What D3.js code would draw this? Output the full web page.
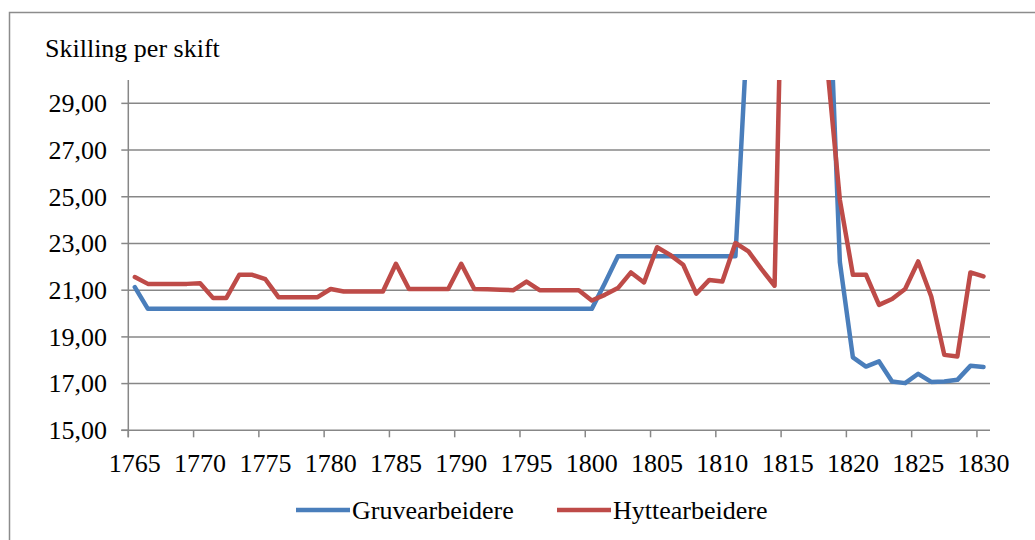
<!DOCTYPE html>
<html>
<head>
<meta charset="utf-8">
<script src="https://cdn.jsdelivr.net/npm/d3@7"></script>
<style>
  body { margin: 0; background: #fff; }
</style>
</head>
<body>
<div id="cont"></div>
<script>
// years 1765..1830
var years = d3.range(1765, 1831);

// skilling per skift, values above 30 run off the top of the chart
var gruve = [
  21.13, 20.2, 20.2, 20.2, 20.2, 20.2, 20.2, 20.2, 20.2, 20.2,   // 1765-1774
  20.2, 20.2, 20.2, 20.2, 20.2, 20.2, 20.2, 20.2, 20.2, 20.2,    // 1775-1784
  20.2, 20.2, 20.2, 20.2, 20.2, 20.2, 20.2, 20.2, 20.2, 20.2,    // 1785-1794
  20.2, 20.2, 20.2, 20.2, 20.2, 20.2, 21.3, 22.45, 22.45, 22.45, // 1795-1804
  22.45, 22.45, 22.45, 22.45, 22.45, 22.45, 22.45, 33, 40, 42,   // 1805-1814
  42, 40, 38, 36.8, 22.2, 18.12, 17.73, 17.95, 17.09, 17.02,     // 1815-1824
  17.42, 17.07, 17.09, 17.16, 17.76, 17.71                       // 1825-1830
];
var hytte = [
  21.56, 21.27, 21.27, 21.27, 21.27, 21.3, 20.66, 20.66, 21.66, 21.66, // 1765-1774
  21.47, 20.7, 20.7, 20.7, 20.7, 21.05, 20.94, 20.94, 20.94, 20.94,    // 1775-1784
  22.13, 21.05, 21.05, 21.05, 21.05, 22.13, 21.05, 21.04, 21.02, 21.0, // 1785-1794
  21.37, 21.0, 21.0, 21.0, 21.0, 20.56, 20.8, 21.09, 21.76, 21.33,     // 1795-1804
  22.84, 22.51, 22.09, 20.85, 21.44, 21.37, 23.02, 22.66, 21.9, 21.19, // 1805-1814
  46, 46, 40, 30.8, 24.87, 21.66, 21.66, 20.37, 20.62, 21.05,          // 1815-1824
  22.23, 20.73, 18.23, 18.16, 21.76, 21.59                             // 1825-1830
];
var yTicks = [15, 17, 19, 21, 23, 25, 27, 29];
var xLabelYears = d3.range(1765, 1831, 5);
var seriesNames = ["Gruvearbeidere", "Hyttearbeidere"];
var colors = ["#4a7ebb", "#be4b48"];

var W = 1035, H = 540;
var plotL = 128.3, plotR = 990, plotT = 80, plotB = 430.3;
var serif = "'Liberation Serif', 'Times New Roman', serif";
var grey = "#878787";

var svg = d3.select("#cont").append("svg")
    .attr("width", W)
    .attr("height", H)
    .style("font-family", serif);

svg.append("rect").attr("width", W).attr("height", H).attr("fill", "#fff");

// chart frame (right/bottom edges are cut off in the original)
svg.append("rect")
    .attr("x", 9.5).attr("y", 12.5)
    .attr("width", 1200).attr("height", 700)
    .attr("fill", "none")
    .attr("stroke", "#8c8c8c")
    .attr("stroke-width", 1.5);

var x = d3.scaleBand().domain(years).range([plotL, plotR]).padding(0);
var y = d3.scaleLinear().domain([15, 30]).range([plotB, plotT]);
var cx = function(yr) { return x(yr) + x.bandwidth() / 2; };

// gridlines
svg.append("g").selectAll("line")
    .data(yTicks.filter(function(d) { return d > 15; }))
    .enter().append("line")
    .attr("x1", plotL).attr("x2", plotR)
    .attr("y1", function(d) { return y(d); })
    .attr("y2", function(d) { return y(d); })
    .attr("stroke", grey)
    .attr("stroke-width", 1.5);

// y axis
var yAxis = svg.append("g");
yAxis.append("line")
    .attr("x1", plotL).attr("x2", plotL)
    .attr("y1", plotT).attr("y2", plotB + 7)
    .attr("stroke", grey).attr("stroke-width", 1.5);
yAxis.selectAll("line.tk").data(yTicks).enter().append("line")
    .attr("class", "tk")
    .attr("x1", plotL - 7).attr("x2", plotL)
    .attr("y1", function(d) { return y(d); })
    .attr("y2", function(d) { return y(d); })
    .attr("stroke", grey).attr("stroke-width", 1.5);
yAxis.selectAll("text").data(yTicks).enter().append("text")
    .attr("x", 107)
    .attr("y", function(d) { return y(d); })
    .attr("dy", "0.34em")
    .attr("text-anchor", "end")
    .style("font-size", "26px")
    .text(function(d) { return d3.format(".2f")(d).replace(".", ","); });

// x axis
var xAxis = svg.append("g");
xAxis.append("line")
    .attr("x1", plotL - 7).attr("x2", plotR)
    .attr("y1", plotB).attr("y2", plotB)
    .attr("stroke", grey).attr("stroke-width", 1.5);
xAxis.selectAll("line.tk").data(xLabelYears).enter().append("line")
    .attr("class", "tk")
    .attr("x1", function(d) { return x(d); })
    .attr("x2", function(d) { return x(d); })
    .attr("y1", plotB).attr("y2", plotB + 7)
    .attr("stroke", grey).attr("stroke-width", 1.5);
xAxis.selectAll("text").data(xLabelYears).enter().append("text")
    .attr("x", function(d) { return cx(d); })
    .attr("y", 472)
    .attr("text-anchor", "middle")
    .style("font-size", "26px")
    .text(function(d) { return d; });

// title
svg.append("text")
    .attr("x", 45).attr("y", 57)
    .style("font-size", "26px")
    .text("Skilling per skift");

// lines, clipped to the plot area
svg.append("clipPath").attr("id", "plot")
    .append("rect")
    .attr("x", plotL).attr("y", plotT)
    .attr("width", plotR - plotL).attr("height", plotB - plotT);

var line = d3.line()
    .x(function(d, i) { return cx(years[i]); })
    .y(function(d) { return y(d); });

var plot = svg.append("g").attr("clip-path", "url(#plot)");
[gruve, hytte].forEach(function(s, k) {
    plot.append("path")
        .attr("d", line(s))
        .attr("fill", "none")
        .attr("stroke", colors[k])
        .attr("stroke-width", 4.5)
        .attr("stroke-linejoin", "round")
        .attr("stroke-linecap", "round");
});

// legend
var legX = [296, 557];
var leg = svg.append("g");
seriesNames.forEach(function(n, k) {
    leg.append("line")
        .attr("x1", legX[k]).attr("x2", legX[k] + 54)
        .attr("y1", 510).attr("y2", 510)
        .attr("stroke", colors[k])
        .attr("stroke-width", 4.5);
    leg.append("text")
        .attr("x", legX[k] + 56).attr("y", 510)
        .attr("dy", "0.34em")
        .style("font-size", "26px")
        .text(n);
});
</script>
</body>
</html>
